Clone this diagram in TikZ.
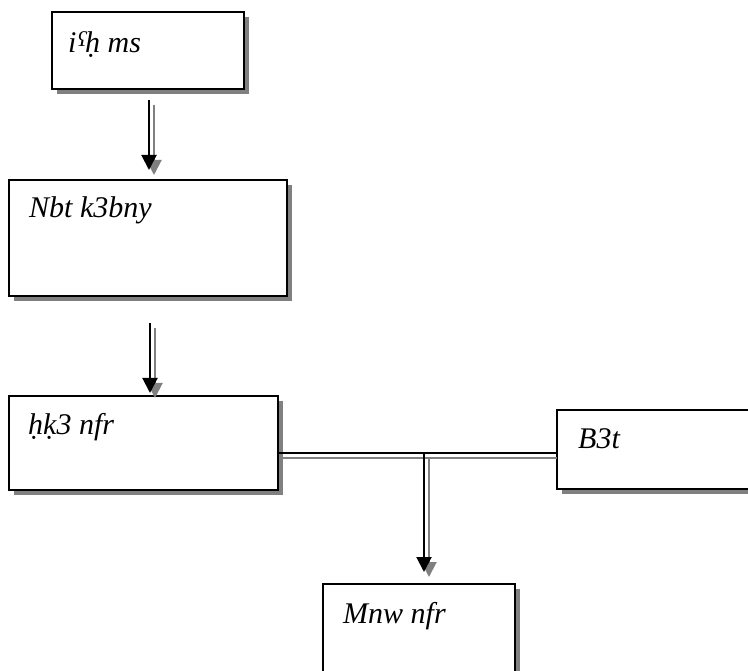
\documentclass[tikz,border=0pt]{standalone}
\usepackage{fontspec}
\setmainfont{Liberation Serif}
\usetikzlibrary{arrows.meta,shadows}
\newcommand{\ayinmark}{\kern1pt\raisebox{6pt}{\fontsize{21}{21}\selectfont ʕ}\kern-1pt}
\begin{document}
\begin{tikzpicture}[x=1pt,y=-1pt,
  box/.style={draw=black,line width=2pt,fill=white,inner sep=0pt,outer sep=0pt,
    drop shadow={shadow xshift=5pt,shadow yshift=-5pt,fill=black!50,opacity=1}},
  lbl/.style={anchor=base west,inner sep=0pt,font=\fontsize{30}{34}\selectfont\itshape},
  arr/.style={line width=2pt,-{Triangle[width=15pt,length=15pt]}},
  sarr/.style={arr,draw=black!50,fill=black!50},
  shd/.style={transform canvas={xshift=5pt,yshift=-5pt}}]
\useasboundingbox (0,0) rectangle (748,671);
\node[box,minimum width=192pt,minimum height=77pt] (b1) at (148,50.5) {};
\node[box,minimum width=278pt,minimum height=116pt] (b2) at (148,238) {};
\node[box,minimum width=269pt,minimum height=94pt] (b3) at (143.5,443) {};
\node[box,minimum width=203pt,minimum height=79pt] (b4) at (658.5,449.5) {};
\node[box,minimum width=192pt,minimum height=106pt] (b5) at (419,637) {};
\node[lbl] (t1) at ([shift={(16,41)}]b1.north west) {i\ayinmark ḥ ms};
\node[lbl] (t2) at ([shift={(20,38)}]b2.north west) {Nbt k3bny};
\node[lbl] (t3) at ([shift={(19,39)}]b3.north west) {ḥḳ3 nfr};
\node[lbl] (t4) at ([shift={(21,39)}]b4.north west) {B3t};
\node[lbl] (t5) at ([shift={(20,39)}]b5.north west) {Mnw nfr};
\coordinate (j) at (424,453);
% arrow 1
\draw[sarr,shd] ([xshift=1pt,yshift=-11pt]b1.south) -- ([xshift=1pt,yshift=10pt]b2.north);
\draw[arr] ([xshift=1pt,yshift=-11pt]b1.south) -- ([xshift=1pt,yshift=10pt]b2.north);
% arrow 2
\draw[sarr,shd] ([xshift=2pt,yshift=-27pt]b2.south) -- ([xshift=6.5pt,yshift=3pt]b3.north);
\draw[arr] ([xshift=2pt,yshift=-27pt]b2.south) -- ([xshift=6.5pt,yshift=3pt]b3.north);
% horizontal connector
\draw[line width=2pt,black!50,transform canvas={yshift=-5pt}] ([xshift=5pt]b3.east |- j) -- (b4.west |- j);
\draw[line width=2pt] (b3.east |- j) -- (b4.west |- j);
% vertical arrow
\draw[sarr,shd] (j) -- ([yshift=12pt]b5.north -| j);
\draw[arr] (j) -- ([yshift=12pt]b5.north -| j);
\end{tikzpicture}
\end{document}
